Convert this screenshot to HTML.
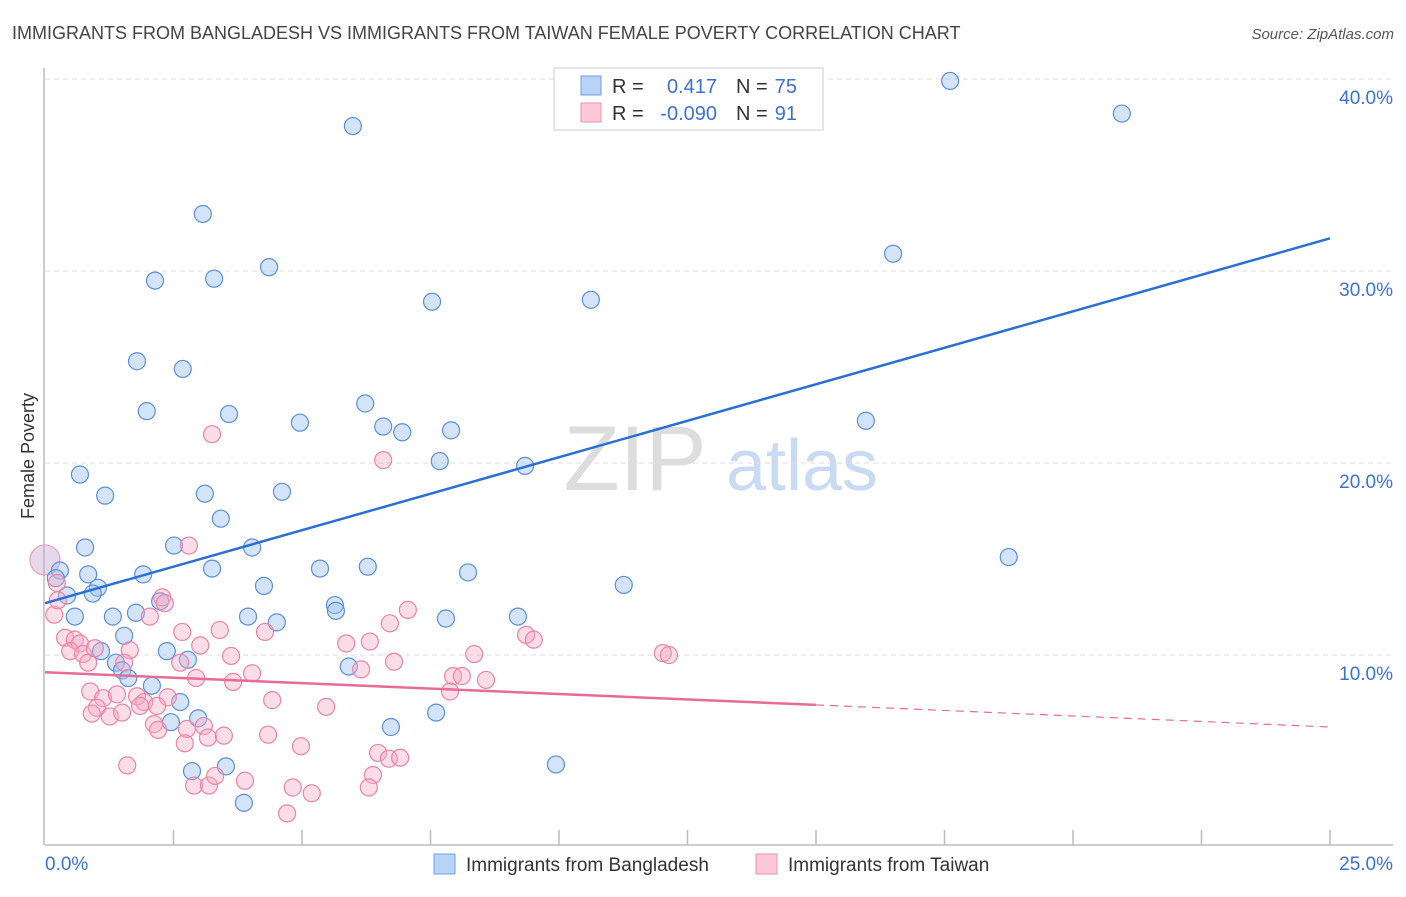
<!DOCTYPE html>
<html><head><meta charset="utf-8">
<style>
body{margin:0;background:#fff;font-family:"Liberation Sans",sans-serif;}
svg text{font-family:"Liberation Sans",sans-serif;}
</style></head>
<body>
<svg id="chart" width="1406" height="892" xmlns="http://www.w3.org/2000/svg">
<text x="12" y="39" font-size="18" fill="#444">IMMIGRANTS FROM BANGLADESH VS IMMIGRANTS FROM TAIWAN FEMALE POVERTY CORRELATION CHART</text>
<text x="1394" y="39" font-size="15" fill="#555" font-style="italic" text-anchor="end">Source: ZipAtlas.com</text>
<text transform="translate(34,456) rotate(-90)" font-size="18" fill="#333" text-anchor="middle">Female Poverty</text>
<g>
<text x="635" y="490" font-size="92" fill="#ddd" font-family="Liberation Serif,serif" text-anchor="middle">ZIP</text>
<text x="802" y="490" font-size="72" fill="#c9daf3" text-anchor="middle">atlas</text>
</g>
<g id="grid"></g>
<g id="axes"></g>
<g id="marks"></g>
<g>
<rect x="554" y="68" width="269" height="62" fill="#fff" stroke="#ddd" stroke-width="1.5"/>
<rect x="581" y="76" width="20" height="19" fill="#b8d3f5" stroke="#6d9de0"/>
<rect x="581" y="103" width="20" height="19" fill="#fbc9d8" stroke="#ec92ae"/>
<text x="612" y="93" font-size="20" fill="#333">R =</text>
<text x="717" y="93" font-size="20" fill="#3a72d4" text-anchor="end">0.417</text>
<text x="736" y="93" font-size="20" fill="#333">N =</text>
<text x="797" y="93" font-size="20" fill="#3a72d4" text-anchor="end">75</text>
<text x="612" y="120" font-size="20" fill="#333">R =</text>
<text x="717" y="120" font-size="20" fill="#3a72d4" text-anchor="end">-0.090</text>
<text x="736" y="120" font-size="20" fill="#333">N =</text>
<text x="797" y="120" font-size="20" fill="#3a72d4" text-anchor="end">91</text>
</g>
<g>
<rect x="434" y="854" width="21" height="20" fill="#b8d3f5" stroke="#6d9de0"/>
<text x="466" y="871" font-size="19" fill="#333">Immigrants from Bangladesh</text>
<rect x="756" y="854" width="21" height="20" fill="#fbc9d8" stroke="#ec92ae"/>
<text x="788" y="871" font-size="19" fill="#333">Immigrants from Taiwan</text>
</g>
</svg>
<script>
const yTicks=[10,20,30,40];
const yTickLabels=["10.0%","20.0%","30.0%","40.0%"];
const xTickVals=[2.5,5,7.5,10,12.5,15,17.5,20,22.5,25];
const xEndLabels=["0.0%","25.0%"];
const blueX=[17.61,20.95,5.99,3.07,2.14,3.29,4.36,7.53,10.62,16.5,1.79,2.68,1.98,3.58,4.96,6.23,6.58,6.95,7.9,7.68,9.34,15.97,0.68,1.17,3.11,4.61,3.42,0.78,2.51,4.03,18.75,0.29,0.84,1.91,3.25,5.35,6.28,8.23,11.26,4.26,1.03,0.43,0.93,2.24,5.64,5.66,0.58,1.32,1.77,3.95,4.51,7.8,9.2,1.54,1.09,2.37,1.38,2.78,5.91,1.5,1.62,2.08,2.63,2.45,2.98,7.61,6.73,2.86,3.52,9.94,3.87,0.21];
const blueY=[39.9,38.2,37.55,32.97,29.5,29.6,30.2,28.4,28.5,30.9,25.3,24.9,22.7,22.55,22.1,23.1,21.9,21.6,21.7,20.1,19.85,22.2,19.4,18.3,18.4,18.5,17.1,15.6,15.7,15.6,15.1,14.4,14.2,14.2,14.5,14.5,14.6,14.3,13.65,13.6,13.5,13.1,13.2,12.8,12.6,12.3,12.0,12.0,12.2,12.0,11.7,11.9,12.0,11.0,10.2,10.2,9.6,9.75,9.4,9.2,8.8,8.4,7.55,6.5,6.7,7.0,6.25,3.95,4.2,4.3,2.3,14.0];
const pinkX=[0.23,0.18,0.39,0.58,0.68,0.49,0.74,0.84,1.65,1.54,2.04,2.28,2.33,2.8,3.25,6.58,2.67,3.4,4.28,3.02,2.63,3.62,4.03,2.94,3.66,0.88,1.13,1.4,1.79,1.93,2.39,1.01,0.91,1.26,1.5,1.85,2.18,2.12,2.2,2.76,3.09,2.72,3.17,3.48,4.42,4.34,4.98,5.47,1.6,2.9,3.19,3.31,3.89,4.82,5.19,4.71,5.86,6.15,6.32,6.71,7.06,6.79,6.48,6.69,6.91,6.38,6.3,8.35,7.94,8.11,7.88,8.58,9.36,9.51,12.02,12.14,0.97,0.25];
const pinkY=[13.75,12.1,10.9,10.8,10.6,10.2,10.05,9.6,10.25,9.6,12.0,13.0,12.7,15.7,21.5,20.15,11.2,11.3,11.2,10.5,9.6,9.95,9.05,8.8,8.6,8.1,7.75,7.95,7.85,7.55,7.8,7.25,6.95,6.8,7.0,7.35,7.35,6.4,6.1,6.15,6.3,5.4,5.7,5.8,7.65,5.85,5.25,7.3,4.25,3.2,3.2,3.7,3.45,3.1,2.8,1.75,10.6,9.25,10.7,11.65,12.35,9.65,4.9,4.6,4.65,3.75,3.1,10.05,8.9,8.9,8.1,8.7,11.05,10.8,10.1,10.0,10.35,12.85];
const blueTrend=[0,12.7,25,31.7];
const pinkTrend=[0,9.1,15,7.4,25,6.25];
const NS="http://www.w3.org/2000/svg";
const sx=v=>45+v/25*1285;
const sy=v=>847-v*19.2;
function mk(tag,attrs,parent){const e=document.createElementNS(NS,tag);for(const k in attrs)e.setAttribute(k,attrs[k]);parent.appendChild(e);return e;}
const grid=document.getElementById('grid'),axes=document.getElementById('axes'),marks=document.getElementById('marks');
yTicks.forEach((t,i)=>{
 const l=mk('line',{x1:45,x2:1393,y1:sy(t),y2:sy(t),stroke:'#ddd','stroke-dasharray':'5,4'},grid);
 
 
 const tx=mk('text',{x:1393,y:sy(t)+25,'font-size':19,fill:'#3a72d4','text-anchor':'end'},axes);
 tx.textContent=yTickLabels[i];
 
 
});
const ya=mk('line',{x1:44,x2:44,y1:68,y2:845,stroke:'#bbb','stroke-width':1.5},axes);


const xa=mk('line',{x1:45,x2:1393,y1:845,y2:845,stroke:'#bbb','stroke-width':1.5},axes);


xTickVals.forEach(t=>{
 const l=mk('line',{x1:sx(t),x2:sx(t),y1:830,y2:845,stroke:'#bbb','stroke-width':1.5},axes);
 
 
});
const x0=mk('text',{x:45,y:870,'font-size':19,fill:'#3a72d4'},axes);x0.textContent=xEndLabels[0];


const x1=mk('text',{x:1393,y:870,'font-size':19,fill:'#3a72d4','text-anchor':'end'},axes);x1.textContent=xEndLabels[1];


// big overlapping points at origin
const bb=mk('circle',{cx:sx(0),cy:sy(14.95),r:15,fill:'rgba(200,170,210,0.45)',stroke:'#e8a0bc','stroke-width':1.2},marks);


blueX.forEach((v,i)=>{
 const c=mk('circle',{cx:sx(v),cy:sy(blueY[i]),r:8.5,fill:'rgba(160,196,240,0.45)',stroke:'#5b8fd8','stroke-width':1.2},marks);
 
 
});
pinkX.forEach((v,i)=>{
 const c=mk('circle',{cx:sx(v),cy:sy(pinkY[i]),r:8.5,fill:'rgba(246,170,196,0.4)',stroke:'#ea84a6','stroke-width':1.2},marks);
 
 
});
const bl=mk('line',{x1:sx(blueTrend[0]),y1:sy(blueTrend[1]),x2:sx(blueTrend[2]),y2:sy(blueTrend[3]),stroke:'#2a6fd6','stroke-width':2.5},marks);


const pl=mk('line',{x1:sx(pinkTrend[0]),y1:sy(pinkTrend[1]),x2:sx(pinkTrend[2]),y2:sy(pinkTrend[3]),stroke:'#e86a96','stroke-width':2.5},marks);


const pd=mk('line',{x1:sx(pinkTrend[2]),y1:sy(pinkTrend[3]),x2:sx(pinkTrend[4]),y2:sy(pinkTrend[5]),stroke:'#e86a96','stroke-width':1.2,'stroke-dasharray':'8,6'},marks);


</script>
</body></html>
